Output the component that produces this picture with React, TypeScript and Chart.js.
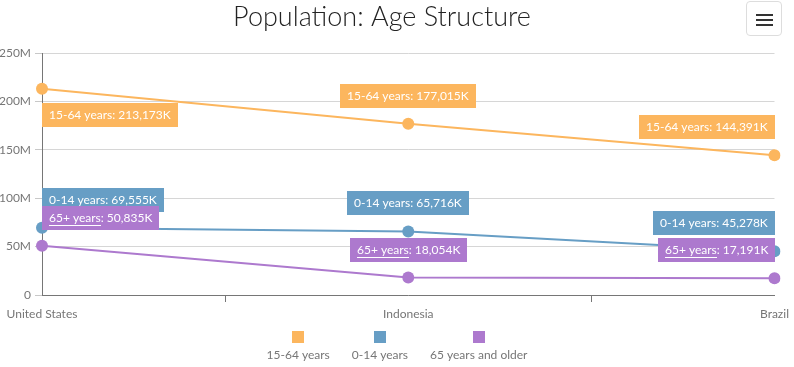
import React, { useEffect, useRef } from "react";
import { Chart, registerables } from "chart.js";

Chart.register(...registerables);

const countries = ["United States", "Indonesia", "Brazil"];
const seriesNames = ["15-64 years", "0-14 years", "65+ years"];
const legendNames = ["15-64 years", "0-14 years", "65 years and older"];
const colors = ["#fcb65e", "#679ec5", "#ad79ce"];
// values in thousands
const age15to64 = [213173, 177015, 144391];
const age0to14 = [69555, 65716, 45278];
const age65plus = [50835, 18054, 17191];
const yTicks = [0, 50000, 100000, 150000, 200000, 250000];
const title = "Population: Age Structure";

const FONT = "Lato, 'Open Sans', sans-serif";
const AXIS_COLOR = "#767676";

const titlePlugin = {
  id: "customTitle",
  afterDraw(chart: any) {
    const ctx = chart.ctx;
    ctx.save();
    ctx.font = `300 27px ${FONT}`;
    ctx.fillStyle = "#232323";
    ctx.textAlign = "center";
    ctx.textBaseline = "middle";
    ctx.fillText(title, 382, 17);
    ctx.restore();
  },
};

const legendPlugin = {
  id: "customLegend",
  afterDraw(chart: any) {
    const ctx = chart.ctx;
    ctx.save();
    ctx.font = `12px ${FONT}`;
    const gap = 22;
    const widths = legendNames.map((n) => ctx.measureText(n).width);
    const total = widths.reduce((a, b) => a + b, 0) + gap * (legendNames.length - 1);
    let x = chart.width / 2 - total / 2;
    legendNames.forEach((name, i) => {
      const cx = x + widths[i] / 2;
      ctx.fillStyle = colors[i];
      ctx.fillRect(Math.round(cx - 6), 331, 12, 12);
      ctx.fillStyle = AXIS_COLOR;
      ctx.textAlign = "center";
      ctx.textBaseline = "middle";
      ctx.fillText(name, cx, 355);
      x += widths[i] + gap;
    });
    ctx.restore();
  },
};

const labelPlugin = {
  id: "pointLabels",
  afterDatasetsDraw(chart: any) {
    const ctx = chart.ctx;
    const area = chart.chartArea;
    ctx.save();
    ctx.font = `12px ${FONT}`;
    chart.data.datasets.forEach((ds: any, di: number) => {
      const meta = chart.getDatasetMeta(di);
      meta.data.forEach((pt: any, i: number) => {
        const prefix = seriesNames[di];
        const rest = ": " + Number(ds.data[i]).toLocaleString("en-US") + "K";
        const wPrefix = ctx.measureText(prefix).width;
        const wRest = ctx.measureText(rest).width;
        const pad = 7;
        const bw = Math.round(wPrefix + wRest + pad * 2);
        const bh = 24;
        let top = pt.y - 16 - bh;
        if (top < area.top) top = pt.y + 14;
        let left = pt.x - bw / 2;
        if (left < area.left) left = area.left;
        if (left + bw > area.right) left = area.right - bw;
        left = Math.round(left);
        top = Math.round(top);
        ctx.fillStyle = colors[di];
        ctx.fillRect(left, top, bw, bh);
        ctx.fillStyle = "#ffffff";
        ctx.textAlign = "left";
        ctx.textBaseline = "middle";
        const ty = top + bh / 2;
        ctx.fillText(prefix, left + pad, ty);
        ctx.fillText(rest, left + pad + wPrefix, ty);
        if (di === 2) {
          ctx.fillRect(left + pad, Math.round(ty + 7), Math.round(wPrefix), 1);
        }
      });
    });
    ctx.restore();
  },
};

export default function App() {
  const canvasRef = useRef<HTMLCanvasElement | null>(null);

  useEffect(() => {
    if (!canvasRef.current) return;
    const seriesData = [age15to64, age0to14, age65plus];
    const chart = new Chart(canvasRef.current, {
      type: "line",
      data: {
        labels: countries,
        datasets: seriesData.map((d, i) => ({
          label: seriesNames[i],
          data: d,
          borderColor: colors[i],
          backgroundColor: colors[i],
          borderWidth: 2,
          pointRadius: 6,
          pointHoverRadius: 6,
          pointBorderWidth: 0,
          tension: 0,
        })),
      },
      options: {
        responsive: false,
        animation: false,
        layout: { padding: { left: 0, right: 17, top: 53, bottom: 42 } },
        plugins: {
          legend: { display: false },
          title: { display: false },
          tooltip: { enabled: false },
        },
        scales: {
          x: {
            type: "category",
            offset: false,
            grid: {
              offset: true,
              drawOnChartArea: false,
              drawTicks: true,
              tickLength: 7,
              color: AXIS_COLOR,
            },
            border: { color: AXIS_COLOR, width: 1 },
            ticks: {
              color: AXIS_COLOR,
              font: { family: FONT, size: 12 },
              padding: 5,
              maxRotation: 0,
              autoSkip: false,
            },
            afterFit: (s: any) => {
              s.height = 30;
            },
          },
          y: {
            min: 0,
            max: 250000,
            afterBuildTicks: (s: any) => {
              s.ticks = yTicks.map((v) => ({ value: v }));
            },
            grid: {
              color: "#d6d6d6",
              tickLength: 7,
              tickColor: "#c8c8c8",
            },
            border: { color: AXIS_COLOR, width: 1 },
            ticks: {
              color: AXIS_COLOR,
              font: { family: FONT, size: 12 },
              padding: 4,
              callback: (v: any) => (v === 0 ? "0" : v / 1000 + "M"),
            },
            afterFit: (s: any) => {
              s.width = 42;
            },
          },
        },
      },
      plugins: [titlePlugin, labelPlugin, legendPlugin],
    });
    return () => chart.destroy();
  }, []);

  return (
    <div style={{ position: "absolute", left: 0, top: 0, width: 794, height: 367, background: "#fff" }}>
      <canvas ref={canvasRef} width={794} height={367} style={{ display: "block" }} />
      <div
        style={{
          position: "absolute",
          left: 746,
          top: 1,
          width: 34,
          height: 33,
          border: "1px solid #dddddd",
          borderRadius: 4,
          background: "#fff",
          boxSizing: "content-box",
        }}
      >
        {[12, 17, 22].map((t) => (
          <div
            key={t}
            style={{
              position: "absolute",
              left: 9,
              top: t,
              width: 17,
              height: 2,
              background: "#333",
            }}
          />
        ))}
      </div>
    </div>
  );
}
